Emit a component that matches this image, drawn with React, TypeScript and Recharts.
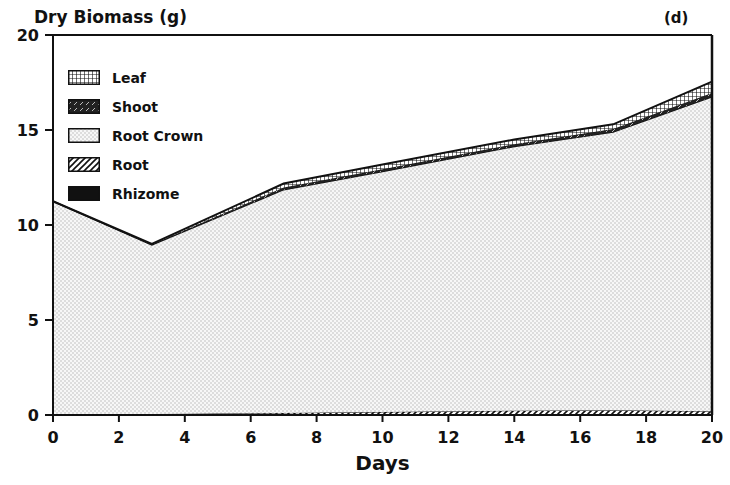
import React from 'react';
import { AreaChart, Area, XAxis, YAxis, ReferenceLine } from 'recharts';

const days = [0, 3, 7, 10, 14, 17, 20];
const rhizome = [0.02, 0.02, 0.03, 0.04, 0.05, 0.05, 0.05];
const root = [0.03, 0.03, 0.08, 0.12, 0.18, 0.2, 0.15];
const rootCrown = [11.2, 8.9, 11.75, 12.65, 13.9, 14.65, 16.55];
const shoot = [0, 0.02, 0.12, 0.12, 0.12, 0.15, 0.2];
const leaf = [0, 0.03, 0.2, 0.25, 0.25, 0.25, 0.6];

const xTicks = [0, 2, 4, 6, 8, 10, 12, 14, 16, 18, 20];
const yTicks = [0, 5, 10, 15, 20];

const legendItems = [
  { name: 'Leaf', fill: 'url(#pLeaf)' },
  { name: 'Shoot', fill: 'url(#pShoot)' },
  { name: 'Root Crown', fill: 'url(#pCrown)' },
  { name: 'Root', fill: 'url(#pRoot)' },
  { name: 'Rhizome', fill: '#111' },
];

const data = days.map((d, i) => ({
  day: d,
  rhizome: rhizome[i],
  root: root[i],
  rootCrown: rootCrown[i],
  shoot: shoot[i],
  leaf: leaf[i],
}));

const FONT = '"DejaVu Sans", "Liberation Sans", sans-serif';

export default function App() {
  const tickStyle = { fontFamily: FONT, fontWeight: 'bold', fontSize: 16, fill: '#111' };
  return (
    <div style={{ position: 'absolute', left: 0, top: 0, width: 730, height: 485, background: '#fff' }}>
      <svg width={0} height={0} style={{ position: 'absolute' }}>
        <defs>
          <pattern id="pCrown" width="4" height="4" patternUnits="userSpaceOnUse">
            <rect width="4" height="4" fill="#f7f7f7" />
            <circle cx="1" cy="1" r="0.7" fill="#b0b0b0" />
            <circle cx="3" cy="3" r="0.7" fill="#b0b0b0" />
          </pattern>
          <pattern id="pLeaf" width="4" height="4" patternUnits="userSpaceOnUse">
            <rect width="4" height="4" fill="#fff" />
            <path d="M0 0 H4 M0 0 V4" stroke="#111" strokeWidth="1.2" />
          </pattern>
          <pattern id="pShoot" width="6" height="6" patternUnits="userSpaceOnUse">
            <rect width="6" height="6" fill="#222" />
            <path d="M0 6 L3 3" stroke="#bbb" strokeWidth="1" />
          </pattern>
          <pattern id="pRoot" width="6" height="6" patternUnits="userSpaceOnUse">
            <rect width="6" height="6" fill="#fff" />
            <path d="M-1 7 L7 -1 M-1 1 L1 -1 M5 7 L7 5" stroke="#111" strokeWidth="1.6" />
          </pattern>
        </defs>
      </svg>
      <AreaChart width={730} height={485} data={data} margin={{ top: 35, right: 18, left: 0, bottom: 0 }}>
        <XAxis
          dataKey="day"
          type="number"
          domain={[0, 20]}
          ticks={xTicks}
          height={70}
          tickSize={7}
          tickMargin={10}
          stroke="#111"
          strokeWidth={2}
          tick={tickStyle}
          interval={0}
        />
        <YAxis
          type="number"
          domain={[0, 20]}
          ticks={yTicks}
          width={53}
          tickSize={8}
          tickMargin={6}
          stroke="#111"
          strokeWidth={2}
          tick={tickStyle}
          interval={0}
        />
        <Area type="linear" dataKey="rhizome" stackId="a" stroke="#111" strokeWidth={1} fill="#111" fillOpacity={1} isAnimationActive={false} />
        <Area type="linear" dataKey="root" stackId="a" stroke="#111" strokeWidth={1} fill="url(#pRoot)" fillOpacity={1} isAnimationActive={false} />
        <Area type="linear" dataKey="rootCrown" stackId="a" stroke="#111" strokeWidth={1.5} fill="url(#pCrown)" fillOpacity={1} isAnimationActive={false} />
        <Area type="linear" dataKey="shoot" stackId="a" stroke="#111" strokeWidth={1} fill="url(#pShoot)" fillOpacity={1} isAnimationActive={false} />
        <Area type="linear" dataKey="leaf" stackId="a" stroke="#111" strokeWidth={2} fill="url(#pLeaf)" fillOpacity={1} isAnimationActive={false} />
        <ReferenceLine y={20} stroke="#111" strokeWidth={2} />
        <ReferenceLine x={20} stroke="#111" strokeWidth={2.5} />
      </AreaChart>
      <div style={{ position: 'absolute', left: 34, top: 7, fontFamily: FONT, fontWeight: 'bold', fontSize: 17, color: '#111', whiteSpace: 'nowrap' }}>
        Dry Biomass (g)
      </div>
      <div style={{ position: 'absolute', left: 664, top: 9, fontFamily: FONT, fontWeight: 'bold', fontSize: 15, color: '#111' }}>
        (d)
      </div>
      <div style={{ position: 'absolute', left: 0, width: 765, top: 451, textAlign: 'center', fontFamily: FONT, fontWeight: 'bold', fontSize: 20, color: '#111' }}>
        Days
      </div>
      <div style={{ position: 'absolute', left: 68, top: 63 }}>
        {legendItems.map((it) => (
          <div key={it.name} style={{ display: 'flex', alignItems: 'center', height: 29 }}>
            <svg width={32} height={15} style={{ display: 'block' }}>
              <rect x={0.75} y={0.75} width={30.5} height={13.5} fill={it.fill} stroke="#111" strokeWidth={1.5} />
            </svg>
            <span style={{ marginLeft: 12, fontFamily: FONT, fontWeight: 'bold', fontSize: 14, color: '#111', whiteSpace: 'nowrap' }}>{it.name}</span>
          </div>
        ))}
      </div>
    </div>
  );
}
